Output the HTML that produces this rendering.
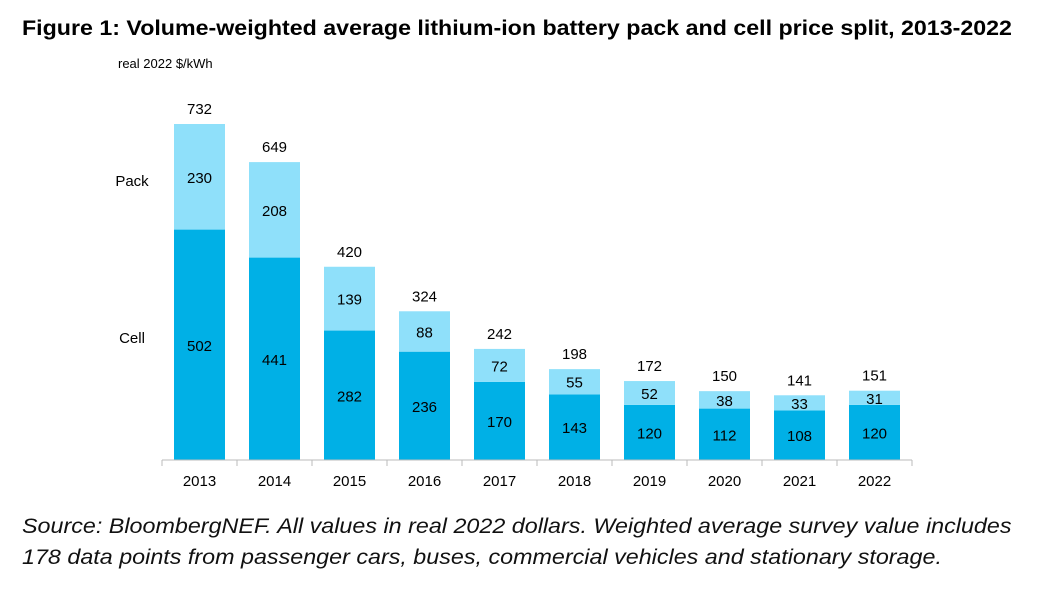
<!DOCTYPE html>
<html><head><meta charset="utf-8"><style>
body{margin:0;background:#fff;width:1045px;height:601px;overflow:hidden;font-family:"Liberation Sans",sans-serif}
#title{position:absolute;left:22px;top:17px;font-size:21px;font-weight:bold;color:#000;white-space:nowrap;transform:scaleX(1.105);transform-origin:0 0}
#src{position:absolute;left:22px;top:511px;font-size:21px;font-style:italic;color:#111;line-height:31px;white-space:nowrap;transform:scaleX(1.11);transform-origin:0 0}
svg{position:absolute;left:0;top:0}
</style></head><body>
<div id="title">Figure 1: Volume-weighted average lithium-ion battery pack and cell price split, 2013-2022</div>
<svg id="chart" width="1045" height="601"></svg>
<div id="src">Source: BloombergNEF. All values in real 2022 dollars. Weighted average survey value includes<br>178 data points from passenger cars, buses, commercial vehicles and stationary storage.</div>
<script>
const categories=["2013","2014","2015","2016","2017","2018","2019","2020","2021","2022"];
const cellValues=[502,441,282,236,170,143,120,112,108,120];
const packValues=[230,208,139,88,72,55,52,38,33,31];
const totalValues=[732,649,420,324,242,198,172,150,141,151];
const NS="http://www.w3.org/2000/svg";
const svg=document.getElementById('chart');
const x0=162,band=75,barW=51,base=460,scale=336/732;
const y=v=>base-v*scale;
const xc=i=>x0+band*i+band/2;
function mk(t,a){const e=document.createElementNS(NS,t);for(const k in a)e.setAttribute(k,a[k]);svg.appendChild(e);return e;}
function txt(s,xx,yy,name){const t=mk('text',{x:xx,y:yy,'text-anchor':'middle','font-size':15,fill:'#000','font-family':'Liberation Sans, sans-serif'});t.textContent=s;

return t;}
const u=mk('text',{x:118,y:68,'font-size':13,fill:'#000'});u.textContent='real 2022 $/kWh';


categories.forEach((c,i)=>{
 const cx=xc(i);
 const r1=mk('rect',{x:cx-barW/2,y:y(cellValues[i]),width:barW,height:base-y(cellValues[i]),fill:'#00b0e6'});
 
 
 const tot=cellValues[i]+packValues[i];
 const r2=mk('rect',{x:cx-barW/2,y:y(tot),width:barW,height:y(cellValues[i])-y(tot),fill:'#8fe0fa'});
 
 
 txt(String(cellValues[i]),cx,(y(cellValues[i])+base)/2+6,'cell-value-label');
 txt(String(packValues[i]),cx,(y(tot)+y(cellValues[i]))/2+6,'pack-value-label');
 txt(String(totalValues[i]),cx,y(tot)-10,'total-value-label');
 txt(c,cx,base+26,'x-tick-label');
 const tk=mk('line',{x1:x0+band*i,x2:x0+band*i,y1:base,y2:base+6,stroke:'#bbb'});
 
 
});
const tk=mk('line',{x1:x0+band*10,x2:x0+band*10,y1:base,y2:base+6,stroke:'#bbb'});


const ax=mk('line',{x1:x0,x2:x0+band*10,y1:base,y2:base,stroke:'#bbb'});


const lp=txt('Pack',132,186,'legend-pack');
const lc=txt('Cell',132,343,'legend-cell');
</script>
</body></html>
